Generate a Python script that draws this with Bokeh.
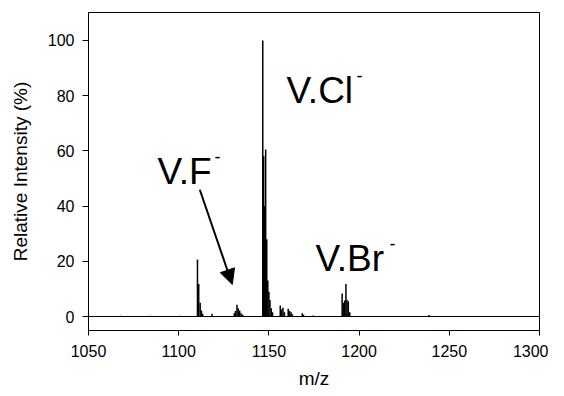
from bokeh.plotting import figure
from bokeh.models import Range1d, Span, Arrow, NormalHead, ColumnDataSource, FixedTicker
from bokeh.core.properties import value
from bokeh.embed import file_html
from bokeh.resources import INLINE

# ---- data ----
mz = [1067.7, 1084.4, 1101.0,
      1110.4, 1111.1, 1111.9, 1112.6, 1113.3, 1118.5,
      1130.8, 1131.5, 1132.3, 1133.0, 1133.8, 1134.6, 1135.5,
      1146.6, 1147.1, 1147.6, 1148.2, 1148.8, 1149.4, 1150.0, 1150.6, 1151.3, 1152.0,
      1156.3, 1157.0, 1157.8, 1158.6, 1160.7, 1161.5, 1162.3, 1163.0,
      1168.5, 1169.2, 1174.5,
      1190.6, 1191.2, 1192.0, 1192.7, 1193.3, 1194.0, 1194.8,
      1238.8]
intensity = [0.3, 0.3, 0.3,
             20.6, 11.8, 5.0, 2.2, 1.0, 1.0,
             1.2, 2.0, 4.3, 3.0, 2.2, 1.2, 0.6,
             100.0, 58.0, 40.0, 60.5, 28.0, 13.0, 9.0, 6.0, 3.0, 1.5,
             4.0, 2.5, 3.2, 1.5, 2.8, 2.0, 1.5, 0.8,
             1.2, 0.6, 0.4,
             8.3, 5.0, 5.8, 11.8, 6.0, 5.5, 1.5,
             0.5]

x_ticks = [1050, 1100, 1150, 1200, 1250, 1300]
y_ticks = [0, 20, 40, 60, 80, 100]

labels = ["V.F", "V.Cl", "V.Br"]
label_x = [1088.2, 1159.8, 1175.8]
label_y = [52.5, 81.9, 20.9]
dash_offset = [57, 70, 74]

arrow_start = (1111.7, 45.9)
arrow_end = (1129.7, 11.6)

FONT = "Liberation Sans"

p = figure(width=548, height=394, output_backend="svg", toolbar_location=None,
           x_range=Range1d(1050, 1300), y_range=Range1d(-5.07, 110.1),
           min_border_left=88, min_border_right=9, min_border_top=12, min_border_bottom=64)

p.xgrid.visible = False
p.ygrid.visible = False
p.background_fill_color = "white"
p.border_fill_color = "white"
p.outline_line_color = "black"
p.outline_line_width = 1

p.xaxis.ticker = FixedTicker(ticks=x_ticks)
p.yaxis.ticker = FixedTicker(ticks=y_ticks)
for ax in (p.xaxis[0], p.yaxis[0]):
    ax.minor_tick_line_color = None
    ax.major_tick_in = 0
    ax.axis_line_color = "black"
    ax.major_tick_line_color = "black"
    ax.major_label_text_font = FONT
    ax.major_label_text_font_size = "16px"
    ax.major_label_text_color = "black"
    ax.axis_label_text_font = FONT
    ax.axis_label_text_font_size = "19px"
    ax.axis_label_text_font_style = "normal"
    ax.axis_label_text_color = "black"
p.xaxis.major_tick_out = 5
p.yaxis.major_tick_out = 6
p.xaxis.major_label_standoff = 9
p.yaxis.major_label_standoff = 8
p.xaxis.axis_label = "m/z"
p.yaxis.axis_label = "Relative Intensity (%)"
p.xaxis.axis_label_standoff = 8
p.yaxis.axis_label_standoff = 14

# baseline
p.add_layout(Span(location=0, dimension="width", line_color="black", line_width=1))

src = ColumnDataSource(dict(x=mz, y=intensity, y0=[0] * len(mz)))
p.segment(x0="x", y0="y0", x1="x", y1="y", source=src, line_color="black", line_width=1.5)

lsrc = ColumnDataSource(dict(x=label_x, y=label_y, t=labels, d=["-"] * 3, off=dash_offset))
p.text(x="x", y="y", text="t", source=lsrc, text_font=value(FONT), text_font_size="37px",
       text_baseline="alphabetic", text_align="left", text_color="black")
p.text(x="x", y="y", text="d", source=lsrc, text_font=value(FONT), text_font_size="18px",
       text_baseline="alphabetic", text_align="left", text_color="black",
       x_offset="off", y_offset=-15)

p.add_layout(Arrow(end=NormalHead(size=15, fill_color="black", line_color="black"),
                   x_start=arrow_start[0], y_start=arrow_start[1],
                   x_end=arrow_end[0], y_end=arrow_end[1],
                   line_color="black", line_width=2))

open("out.html", "w").write(file_html(p, INLINE))
